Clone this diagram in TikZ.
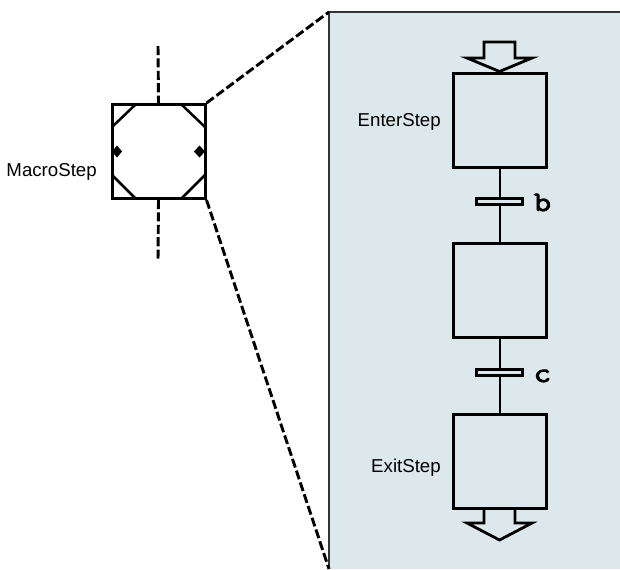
\documentclass[tikz,border=0pt]{standalone}
\usepackage{fontspec}
\setmainfont{Liberation Sans}
\newfontfamily\condfont[FakeBold=3, FakeStretch=1.2]{Latin Modern Mono}
\usetikzlibrary{calc}
\definecolor{panelblue}{HTML}{DCE8EC}
\tikzset{
	stepbox/.style={draw, line width=2.25pt, minimum width=69.75pt, minimum height=70.5pt, inner sep=0pt},
	transbar/.style={draw, line width=2.25pt, fill=panelblue, minimum width=34pt, minimum height=5pt, inner sep=0pt},
	link/.style={line width=1.5pt},
	dashedlink/.style={line width=2.2pt, dash pattern=on 6.8pt off 2.5pt},
	label/.style={font=\fontsize{14}{16}\selectfont, inner sep=0pt},
	condlabel/.style={font=\fontsize{21}{23}\condfont\selectfont, inner sep=0pt},
	token/.style={line width=2.1pt, miter limit=10}
}

\begin{document}
\begin{tikzpicture}[x=.75pt, y=-.75pt]
	\useasboundingbox (0,0) rectangle (620,569);

	% panel
	\fill[panelblue] (329,12) coordinate (p2) rectangle (620,569);
	\coordinate (p1) at (620,12);
	\coordinate (p3) at (329,569);
	\draw[draw=black!80, line width=1.1pt] (p1) -- (p2) -- (p3);

	% macro step on the left
	\node[stepbox] (macro) at (158.5,151.5) {};
	\node[label, anchor=east] (macrolabel) at (97,172) {MacroStep};

	\draw[line width=1.9pt] (135,105) coordinate (m1) -- (112,127) coordinate (m2);
	\draw[line width=1.9pt] (182,105) coordinate (m3) -- (205,127) coordinate (m4);
	\draw[line width=1.9pt] (112,175) coordinate (m5) -- (135,198) coordinate (m6);
	\draw[line width=1.9pt] (205,175) coordinate (m7) -- (182,198) coordinate (m8);

	\fill (112,151.5) coordinate (d1) -- (117,145.5) -- (122,151.5) -- (117,157.5) -- cycle;
	\fill (205,151.5) coordinate (d2) -- (199.5,145.5) -- (194,151.5) -- (199.5,157.5) -- cycle;

	\coordinate (macrotop) at (158,46);
	\coordinate (macrobot) at (158,260);
	\draw[dashedlink] (macrotop) -- (macro.north);
	\draw[dashedlink] (macro.south) -- (macrobot);
	\draw[dashedlink] (macro.north east) -- (p2);
	\draw[dashedlink] (macro.south east) -- (p3);

	% chart in the panel
	\node[stepbox] (enter) at (499.5,120) {};
	\node[stepbox] (middle) at (499.5,290.5) {};
	\node[stepbox] (exit) at (499.5,461) {};

	\node[transbar] (tb) at (499.5,201.5) {};
	\node[transbar] (tc) at (499.5,372.5) {};

	\draw[link] (enter) -- (tb);
	\draw[link] (tb) -- (middle);
	\draw[link] (middle) -- (tc);
	\draw[link] (tc) -- (exit);

	\node[condlabel, anchor=base west] (lb) at (533.5,211) {b};
	\node[condlabel, anchor=base west] (lc) at (533.5,382) {c};

	\node[label, anchor=east] (enterlabel) at (441,122) {EnterStep};
	\node[label, anchor=east] (exitlabel) at (441,468) {ExitStep};

	% arrows in and out
	\draw[token] (enter.north) -- (467,58) -- (484,58) -- (484,42) -- (515,42) -- (515,58) -- (532,58) -- cycle;
	\draw[token] (484,508) -- (484,523) -- (467,523) -- (499.5,540) -- (532,523) -- (515,523) -- (515,508);

\end{tikzpicture}
\end{document}
